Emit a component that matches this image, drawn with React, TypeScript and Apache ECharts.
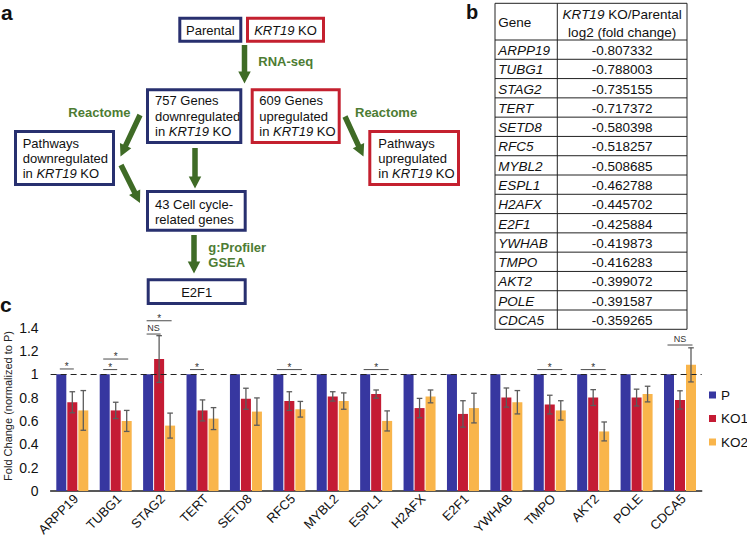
import React, { useEffect, useRef } from 'react';
import * as echarts from 'echarts';

// ---------- Panel c data ----------
const categories = ['ARPP19', 'TUBG1', 'STAG2', 'TERT', 'SETD8', 'RFC5', 'MYBL2', 'ESPL1', 'H2AFX', 'E2F1', 'YWHAB', 'TMPO', 'AKT2', 'POLE', 'CDCA5'];
const seriesNames = ['P', 'KO1', 'KO2'];
const pValues = [1, 1, 1, 1, 1, 1, 1, 1, 1, 1, 1, 1, 1, 1, 1];
const ko1Values = [0.76, 0.69, 1.13, 0.69, 0.79, 0.77, 0.81, 0.83, 0.71, 0.66, 0.80, 0.74, 0.80, 0.80, 0.78];
const ko1Errors = [0.09, 0.07, 0.2, 0.09, 0.09, 0.08, 0.04, 0.035, 0.083, 0.113, 0.082, 0.08, 0.068, 0.072, 0.078];
const ko2Values = [0.69, 0.60, 0.56, 0.62, 0.68, 0.70, 0.77, 0.60, 0.81, 0.71, 0.76, 0.69, 0.51, 0.83, 1.08];
const ko2Errors = [0.17, 0.09, 0.107, 0.094, 0.117, 0.067, 0.07, 0.086, 0.055, 0.127, 0.1, 0.083, 0.081, 0.067, 0.146];
const yMin = 0;
const yMax = 1.4;
const yInterval = 0.2;
const referenceLevel = 1;
const yAxisTitle = 'Fold Change (normalized to P)';
// significance marks: [category index, from bar, to bar, level]
const sigMarks = [
  [0, 0, 1, 1.045],
  [1, 0, 1, 1.04],
  [1, 0, 2, 1.13],
  [2, 0, 1, 1.344],
  [2, 0, 2, 1.458],
  [3, 0, 1, 1.04],
  [5, 0, 2, 1.04],
  [7, 0, 2, 1.04],
  [11, 0, 2, 1.04],
  [12, 0, 2, 1.04],
  [14, 0, 2, 1.25],
];
const sigLabels = ['*', '*', '*', 'NS', '*', '*', '*', '*', '*', '*', 'NS'];

// ---------- Panel b data ----------
const tableGenes = ['ARPP19', 'TUBG1', 'STAG2', 'TERT', 'SETD8', 'RFC5', 'MYBL2', 'ESPL1', 'H2AFX', 'E2F1', 'YWHAB', 'TMPO', 'AKT2', 'POLE', 'CDCA5'];
const tableValues = ['-0.807332', '-0.788003', '-0.735155', '-0.717372', '-0.580398', '-0.518257', '-0.508685', '-0.462788', '-0.445702', '-0.425884', '-0.419873', '-0.416283', '-0.399072', '-0.391587', '-0.359265'];

const FF = '"Liberation Sans", Arial, Helvetica, sans-serif';
const NAVY = '#28306f';
const RED = '#c4202f';
const GREEN = '#3f6b26';
const GREEN_TEXT = '#4d7c33';
const BAR_COLORS = ['#3737a0', '#c41b34', '#f9b54b'];
const ERR_COLOR = '#5c5c5c';
const TXT = '#111';

const BAR_W = 10;
const BAR_STEP = 11;

function rich(fs: number, weight = 'normal', fill = TXT) {
  return {
    n: { fontSize: fs, fontFamily: FF, fontWeight: weight, fill },
    i: { fontSize: fs, fontFamily: FF, fontStyle: 'italic', fontWeight: weight, fill },
  };
}

function txt(x: number, y: number, text: string, opts: any = {}) {
  const fs = opts.fontSize || 13;
  return {
    type: 'text',
    x,
    y,
    silent: true,
    style: {
      text,
      rich: rich(fs, opts.fontWeight || 'normal', opts.fill || TXT),
      align: opts.align || 'left',
      verticalAlign: 'middle',
    },
  };
}

function box(x: number, y: number, w: number, h: number, color: string) {
  return {
    type: 'rect',
    silent: true,
    shape: { x: x + 1.5, y: y + 1.5, width: w - 3, height: h - 3 },
    style: { fill: '#fff', stroke: color, lineWidth: 3 },
  };
}

function arrow(x1: number, y1: number, x2: number, y2: number, sw = 5.5, hw = 12.5, hl = 12) {
  const dx = x2 - x1;
  const dy = y2 - y1;
  const L = Math.hypot(dx, dy);
  const ux = dx / L;
  const uy = dy / L;
  const nx = -uy;
  const ny = ux;
  const bx = x2 - ux * hl;
  const by = y2 - uy * hl;
  const points = [
    [x1 + (nx * sw) / 2, y1 + (ny * sw) / 2],
    [bx + (nx * sw) / 2, by + (ny * sw) / 2],
    [bx + (nx * hw) / 2, by + (ny * hw) / 2],
    [x2, y2],
    [bx - (nx * hw) / 2, by - (ny * hw) / 2],
    [bx - (nx * sw) / 2, by - (ny * sw) / 2],
    [x1 - (nx * sw) / 2, y1 - (ny * sw) / 2],
  ];
  return { type: 'polygon', silent: true, shape: { points }, style: { fill: GREEN } };
}

function kLine(prefix: string) {
  return `{n|${prefix}}{i|KRT19}{n| KO}`;
}

function buildGraphic() {
  const g: any[] = [];
  // panel labels
  g.push({ type: 'text', x: 1, y: 12.5, silent: true, style: { text: 'a', fontSize: 21, fontWeight: 'bold', fontFamily: FF, fill: TXT, verticalAlign: 'middle' } });
  g.push({ type: 'text', x: 466, y: 11.8, silent: true, style: { text: 'b', fontSize: 20, fontWeight: 'bold', fontFamily: FF, fill: TXT, verticalAlign: 'middle' } });
  g.push({ type: 'text', x: 0, y: 304.5, silent: true, style: { text: 'c', fontSize: 21, fontWeight: 'bold', fontFamily: FF, fill: TXT, verticalAlign: 'middle' } });

  // y axis title of panel c
  g.push({
    type: 'text',
    x: 8.3,
    y: 406,
    rotation: Math.PI / 2,
    silent: true,
    style: { text: yAxisTitle, fontSize: 11, fontFamily: FF, fill: '#222', align: 'center', verticalAlign: 'middle' },
  });

  // arrows
  g.push(arrow(244.5, 45, 244.5, 83.5));
  g.push(arrow(140, 115, 120.5, 156.5));
  g.push(arrow(195, 148, 195, 188.5));
  g.push(arrow(121, 165, 140, 203));
  g.push(arrow(345, 116.5, 363.5, 156.5));
  g.push(arrow(194, 235, 194, 273.5));

  // boxes
  g.push(box(178.3, 16.7, 64, 26, NAVY));
  g.push(box(246, 16.7, 79, 26, RED));
  g.push(box(146, 88.3, 96.3, 55.7, NAVY));
  g.push(box(250.7, 88.3, 90, 55.7, RED));
  g.push(box(14, 130, 101, 56, NAVY));
  g.push(box(368.3, 130, 91.7, 56, RED));
  g.push(box(146, 190, 100.7, 41.7, NAVY));
  g.push(box(146.7, 278.3, 100, 26.7, NAVY));

  // box texts
  g.push(txt(210.3, 30.2, '{n|Parental}', { align: 'center' }));
  g.push(txt(285.5, 30.2, '{i|KRT19}{n| KO}', { align: 'center' }));
  g.push(txt(155, 100.5, '{n|757 Genes}'));
  g.push(txt(155, 116, '{n|downregulated}'));
  g.push(txt(155, 131.5, kLine('in ')));
  g.push(txt(259.3, 100.5, '{n|609 Genes}'));
  g.push(txt(259.3, 116, '{n|upregulated}'));
  g.push(txt(259.3, 131.5, kLine('in ')));
  g.push(txt(22.7, 143.5, '{n|Pathways}'));
  g.push(txt(22.7, 158.5, '{n|downregulated}'));
  g.push(txt(22.7, 173.5, kLine('in ')));
  g.push(txt(378.3, 143.5, '{n|Pathways}'));
  g.push(txt(378.3, 158.5, '{n|upregulated}'));
  g.push(txt(378.3, 173.5, kLine('in ')));
  g.push(txt(155, 204, '{n|43 Cell cycle-}'));
  g.push(txt(155, 219, '{n|related genes}'));
  g.push(txt(196.7, 292.3, '{n|E2F1}', { align: 'center' }));

  // green labels
  const gopt = { fontWeight: 'bold', fill: GREEN_TEXT };
  g.push(txt(258.3, 61.7, '{n|RNA-seq}', gopt));
  g.push(txt(68.3, 112.5, '{n|Reactome}', gopt));
  g.push(txt(355, 112, '{n|Reactome}', gopt));
  g.push(txt(208.3, 247.3, '{n|g:Profiler}', gopt));
  g.push(txt(208.3, 262.7, '{n|GSEA}', gopt));

  // table (panel b)
  const tx0 = 495;
  const tx1 = 557.3;
  const tx2 = 687;
  const ty0 = 3.3;
  const tyH = 40;
  const rowH = (329.3 - tyH) / tableGenes.length;
  const tyEnd = tyH + rowH * tableGenes.length;
  const lineStyle = { stroke: '#222', lineWidth: 1 };
  [tx0, tx1, tx2].forEach((x) => g.push({ type: 'line', silent: true, shape: { x1: x, y1: ty0, x2: x, y2: tyEnd }, style: lineStyle }));
  g.push({ type: 'line', silent: true, shape: { x1: tx0, y1: ty0, x2: tx2, y2: ty0 }, style: lineStyle });
  for (let k = 0; k <= tableGenes.length; k++) {
    const y = tyH + rowH * k;
    g.push({ type: 'line', silent: true, shape: { x1: tx0, y1: y, x2: tx2, y2: y }, style: lineStyle });
  }
  const tfs = 13.5;
  g.push(txt(498.3, 22.5, '{n|Gene}', { fontSize: tfs }));
  g.push(txt((tx1 + tx2) / 2, 14.5, '{i|KRT19}{n| KO/Parental}', { fontSize: tfs, align: 'center' }));
  g.push(txt((tx1 + tx2) / 2, 32.5, '{n|log2 (fold change)}', { fontSize: tfs, align: 'center' }));
  tableGenes.forEach((gene, k) => {
    const yc = tyH + rowH * (k + 0.5) + 0.8;
    g.push(txt(498.3, yc, `{i|${gene}}`, { fontSize: tfs }));
    g.push(txt((tx1 + tx2) / 2, yc, `{n|${tableValues[k]}}`, { fontSize: tfs, align: 'center' }));
  });
  return g;
}

function errorSeries(name: string, values: number[], errors: number[], barIndex: number) {
  return {
    type: 'custom',
    name,
    silent: true,
    z: 5,
    clip: false,
    encode: { x: 0, y: [1, 2] },
    data: values.map((v, i) => [i, v - errors[i], v + errors[i]]),
    renderItem: (params: any, api: any) => {
      const lo = api.coord([api.value(0), api.value(1)]);
      const hi = api.coord([api.value(0), api.value(2)]);
      const x = lo[0] + (barIndex - 1) * BAR_STEP;
      const cap = 2.8;
      const st = { stroke: ERR_COLOR, lineWidth: 1.3 };
      return {
        type: 'group',
        children: [
          { type: 'line', shape: { x1: x, y1: lo[1], x2: x, y2: hi[1] }, style: st },
          { type: 'line', shape: { x1: x - cap, y1: lo[1], x2: x + cap, y2: lo[1] }, style: st },
          { type: 'line', shape: { x1: x - cap, y1: hi[1], x2: x + cap, y2: hi[1] }, style: st },
        ],
      };
    },
  };
}

export default function App() {
  const ref = useRef<HTMLDivElement>(null);
  useEffect(() => {
    if (!ref.current) return;
    const chart = echarts.init(ref.current, null, { renderer: 'svg' });
    const barData = [pValues, ko1Values, ko2Values];
    const option: any = {
      animation: false,
      backgroundColor: '#fff',
      textStyle: { fontFamily: FF },
      graphic: buildGraphic(),
      legend: {
        data: seriesNames,
        orient: 'vertical',
        left: 709,
        top: 388,
        padding: 0,
        itemWidth: 7,
        itemHeight: 7,
        itemGap: 9.5,
        icon: 'rect',
        selectedMode: false,
        textStyle: { fontSize: 13.5, color: TXT, fontFamily: FF },
      },
      grid: { left: 50.6, right: 45.3, top: 327.5, bottom: 53 },
      xAxis: {
        type: 'category',
        data: categories,
        axisTick: { show: false },
        axisLine: { show: true, lineStyle: { color: '#222', width: 1.5 } },
        axisLabel: {
          interval: 0,
          rotate: 45,
          margin: 2,
          hideOverlap: false,
          fontSize: 13,
          color: TXT,
          fontFamily: FF,
          formatter: (v: string) => `{a|${v}}`,
          rich: { a: { fontSize: 13, color: TXT, fontFamily: FF, padding: [10, 0, 0, 0] } },
        },
      },
      yAxis: {
        type: 'value',
        min: yMin,
        max: yMax,
        interval: yInterval,
        axisLine: { show: false },
        axisTick: { show: false },
        splitLine: { show: false },
        axisLabel: { fontSize: 14, color: TXT, margin: 12, fontFamily: FF },
      },
      series: [
        ...seriesNames.map((name, k) => ({
          type: 'bar',
          name,
          data: barData[k],
          barWidth: BAR_W,
          barGap: '10%',
          itemStyle: { color: BAR_COLORS[k] },
          silent: true,
          ...(k === 0
            ? {
                markLine: {
                  silent: true,
                  symbol: ['none', 'none'],
                  label: { show: false },
                  lineStyle: { type: [6, 4], color: '#222', width: 1.2 },
                  data: [{ yAxis: referenceLevel }],
                },
              }
            : {}),
        })),
        errorSeries('KO1 error', ko1Values, ko1Errors, 1),
        errorSeries('KO2 error', ko2Values, ko2Errors, 2),
        {
          type: 'custom',
          name: 'significance',
          silent: true,
          z: 6,
          clip: false,
          encode: { x: 0, y: 3 },
          data: sigMarks,
          renderItem: (params: any, api: any) => {
            const c = api.coord([api.value(0), api.value(3)]);
            const from = api.value(1);
            const to = api.value(2);
            const x1 = c[0] + (from - 1) * BAR_STEP - 1.5;
            const x2 = c[0] + (to - 1) * BAR_STEP + 1.5;
            const y = c[1];
            const label = sigLabels[params.dataIndex];
            const isStar = label === '*';
            return {
              type: 'group',
              children: [
                { type: 'line', shape: { x1, y1: y, x2, y2: y }, style: { stroke: ERR_COLOR, lineWidth: 1.1 } },
                {
                  type: 'text',
                  x: (x1 + x2) / 2,
                  y: isStar ? y - 2.2 : y - 5.7,
                  style: {
                    text: label,
                    fontSize: isStar ? 10 : 9,
                    fontFamily: FF,
                    fill: '#333',
                    align: 'center',
                    verticalAlign: 'middle',
                  },
                },
              ],
            };
          },
        },
      ],
    };
    chart.setOption(option);
    return () => chart.dispose();
  }, []);
  return <div ref={ref} style={{ position: 'absolute', left: 0, top: 0, width: 747, height: 544 }} />;
}
